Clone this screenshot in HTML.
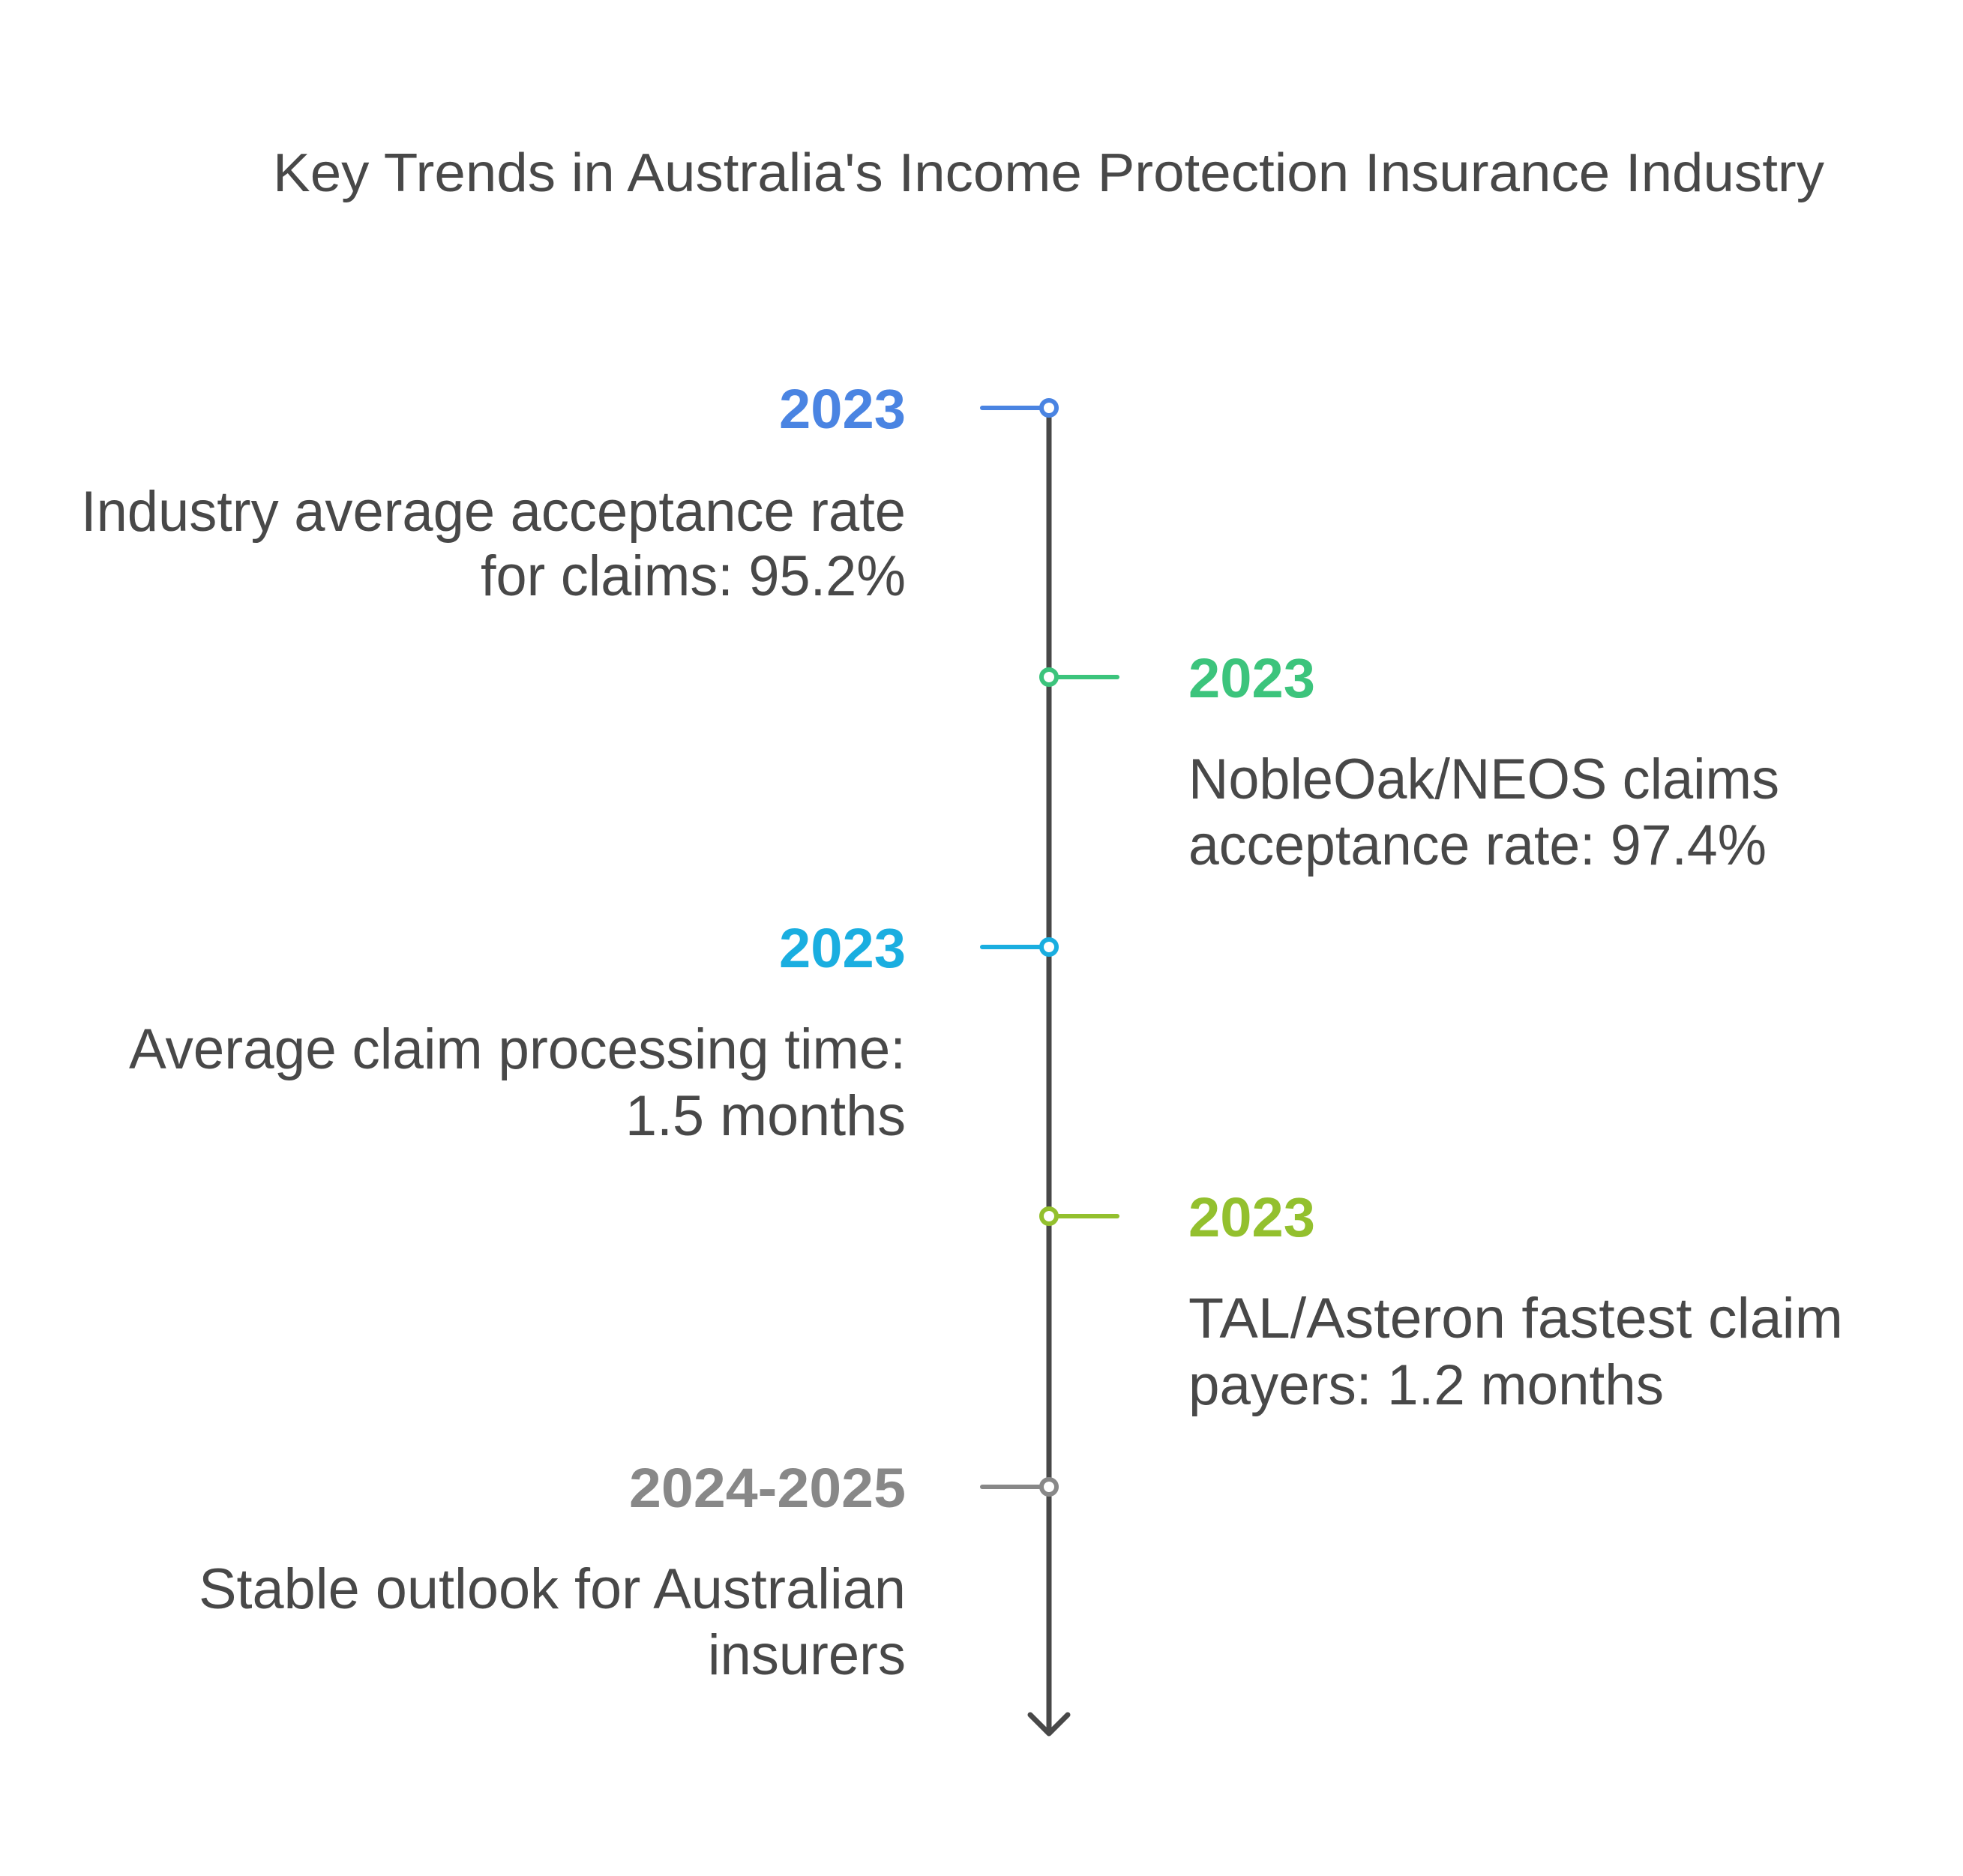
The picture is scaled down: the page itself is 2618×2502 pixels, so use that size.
<!DOCTYPE html>
<html><head><meta charset="utf-8"><style>html,body{margin:0;padding:0;background:#fff}svg{display:block}</style></head>
<body>
<svg width="2618" height="2502" viewBox="0 0 2618 2502" xmlns="http://www.w3.org/2000/svg" font-family="Liberation Sans, sans-serif">
<rect width="2618" height="2502" fill="#fff"/>
<text x="364" y="255" font-size="72" fill="#484848" textLength="2069" lengthAdjust="spacingAndGlyphs">Key Trends in Australia's Income Protection Insurance Industry</text>
<line x1="1399" y1="544" x2="1399" y2="2310" stroke="#484848" stroke-width="7"/>
<polyline points="1374,2287 1399,2312 1424,2287" fill="none" stroke="#484848" stroke-width="7" stroke-linecap="round" stroke-linejoin="round"/>
<g stroke-width="6" stroke-linecap="round" fill="#fff">
<line x1="1310" y1="544" x2="1389" y2="544" stroke="#4a84e2"/><circle cx="1399" cy="544" r="10" stroke="#4a84e2"/>
<line x1="1409" y1="903" x2="1490" y2="903" stroke="#3cc47c"/><circle cx="1399" cy="903" r="10" stroke="#3cc47c"/>
<line x1="1310" y1="1263" x2="1389" y2="1263" stroke="#1aaee0"/><circle cx="1399" cy="1263" r="10" stroke="#1aaee0"/>
<line x1="1409" y1="1622" x2="1490" y2="1622" stroke="#93c02e"/><circle cx="1399" cy="1622" r="10" stroke="#93c02e"/>
<line x1="1310" y1="1983" x2="1389" y2="1983" stroke="#888888"/><circle cx="1399" cy="1983" r="10" stroke="#888888"/>
</g>
<g font-weight="bold" font-size="74">
<text x="1039" y="571" fill="#4a84e2" textLength="169" lengthAdjust="spacingAndGlyphs">2023</text>
<text x="1585" y="930" fill="#3cc47c" textLength="169" lengthAdjust="spacingAndGlyphs">2023</text>
<text x="1039" y="1290" fill="#1aaee0" textLength="169" lengthAdjust="spacingAndGlyphs">2023</text>
<text x="1585" y="1649" fill="#93c02e" textLength="169" lengthAdjust="spacingAndGlyphs">2023</text>
<text x="839" y="2010" fill="#888888" textLength="369" lengthAdjust="spacingAndGlyphs">2024-2025</text>
</g>
<g font-size="76" fill="#484848">
<text x="108" y="708" textLength="1100" lengthAdjust="spacingAndGlyphs">Industry average acceptance rate</text>
<text x="641" y="794" textLength="567" lengthAdjust="spacingAndGlyphs">for claims: 95.2%</text>
<text x="1585" y="1065" textLength="788" lengthAdjust="spacingAndGlyphs">NobleOak/NEOS claims</text>
<text x="1585" y="1153" textLength="771" lengthAdjust="spacingAndGlyphs">acceptance rate: 97.4%</text>
<text x="172" y="1425" textLength="1036" lengthAdjust="spacingAndGlyphs">Average claim processing time:</text>
<text x="834" y="1514" textLength="374" lengthAdjust="spacingAndGlyphs">1.5 months</text>
<text x="1585" y="1784" textLength="873" lengthAdjust="spacingAndGlyphs">TAL/Asteron fastest claim</text>
<text x="1585" y="1873" textLength="634" lengthAdjust="spacingAndGlyphs">payers: 1.2 months</text>
<text x="265" y="2145" textLength="943" lengthAdjust="spacingAndGlyphs">Stable outlook for Australian</text>
<text x="944" y="2233" textLength="264" lengthAdjust="spacingAndGlyphs">insurers</text>
</g>
</svg>
</body></html>
